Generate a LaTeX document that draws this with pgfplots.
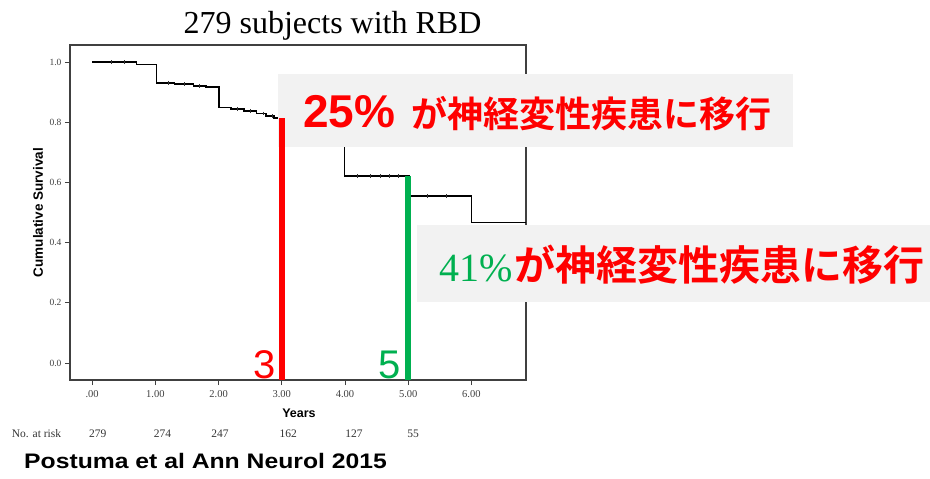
\documentclass[border=0pt]{standalone}
\usepackage{pgfplots}
\usepackage{pgfplotstable}
\pgfplotsset{compat=1.18}
\usepackage{fontspec}
\setmainfont{Liberation Serif}
\setsansfont{Liberation Sans}
\newfontfamily\cjkb{Noto Sans CJK JP Bold}
\definecolor{slidered}{RGB}{255,0,0}
\definecolor{slidegreen}{RGB}{0,176,80}
\definecolor{boxgray}{RGB}{242,242,242}

% Kaplan-Meier estimate (years, cumulative survival)
\pgfplotstableread{
yr surv
0.00 1.000
0.70 0.993
1.02 0.932
1.30 0.928
1.60 0.922
1.80 0.918
2.01 0.849
2.20 0.845
2.40 0.838
2.60 0.830
2.75 0.822
2.88 0.815
2.95 0.810
3.00 0.806
3.20 0.790
3.45 0.778
3.70 0.768
3.99 0.622
5.02 0.556
6.00 0.467
6.864 0.467
}\survtable

% censored observations
\pgfplotstableread{
yr surv
0.30 1.000
0.50 1.000
1.20 0.932
1.45 0.928
1.70 0.922
2.30 0.845
2.50 0.838
2.70 0.830
2.85 0.822
4.20 0.622
4.40 0.622
4.55 0.622
4.70 0.622
4.85 0.622
5.30 0.556
5.60 0.556
}\censtable

\pgfplotsset{kmframe/.style={
  at={(70pt,-380pt)}, anchor=south west, scale only axis,
  width=456pt, height=335pt,
  xmin=-0.351, xmax=6.864, ymin=-0.0565, ymax=1.0575}}

\begin{document}
\begin{tikzpicture}
\path[use as bounding box] (0pt,0pt) rectangle (930pt,-479pt);

\begin{axis}[kmframe,
  xtick={0,1,2,3,4,5,6},
  xticklabels={.00,1.00,2.00,3.00,4.00,5.00,6.00},
  ytick={0,0.2,0.4,0.6,0.8,1},
  yticklabels={0.0,0.2,0.4,0.6,0.8,1.0},
  tick pos=left, tick align=outside, major tick length=5pt,
  tick style={black!75, line width=0.8pt},
  axis line style={black!75, line width=1.6pt},
  /pgf/number format/assume math mode=true,
  xticklabel style={font=\fontsize{10.5}{10.5}\selectfont, text=black!75, yshift=-1.5pt},
  yticklabel style={font=\fontsize{9.5}{9.5}\selectfont, text=black!75},
]
\addplot[const plot, black, line width=1.6pt] table[x=yr, y=surv] {\survtable};
\addplot[only marks, mark=|, mark size=1.8pt, black!80, line width=0.5pt] table[x=yr, y=surv] {\censtable};
\end{axis}

% callout boxes
\fill[boxgray] (277.6pt,-73.8pt) rectangle (793.4pt,-146.9pt);
\fill[boxgray] (417pt,-225pt) rectangle (930pt,-301.5pt);

\begin{axis}[kmframe, hide axis, clip=false]
\addplot[slidered, line width=6.5pt] coordinates {(3,-0.0565) (3,0.814)};
\addplot[slidegreen, line width=6.3pt] coordinates {(5,-0.0565) (5,0.622)};
\end{axis}

% title and axis labels
\node[anchor=base, inner sep=0] at (332.5pt,-33pt) {\fontsize{32}{32}\selectfont 279 subjects with RBD};
\node[anchor=center, inner sep=0, rotate=90] at (38pt,-212.5pt) {\sffamily\bfseries\fontsize{13.5}{13.5}\selectfont Cumulative Survival};
\node[anchor=center, inner sep=0] at (299pt,-413.4pt) {\sffamily\bfseries\fontsize{12.5}{12.5}\selectfont Years};

% number at risk
\node[anchor=base west, inner sep=0, text=black!80] at (11.7pt,-437.3pt) {\fontsize{11.5}{11.5}\selectfont No. at risk};
\foreach \px/\n in {97.7/279, 162.5/274, 220/247, 288.3/162, 354/127, 413/55}
  \node[anchor=base, inner sep=0, text=black!80] at (\px pt,-437.3pt) {\fontsize{11.5}{11.5}\selectfont \n};

% year markers
\node[anchor=base east, inner sep=0, text=slidered] at (276pt,-378.5pt) {\sffamily\fontsize{40}{40}\selectfont 3};
\node[anchor=base east, inner sep=0, text=slidegreen] at (401pt,-378.5pt) {\sffamily\fontsize{40}{40}\selectfont 5};

% callout texts
\node[anchor=base west, inner sep=0, text=slidered] at (302.8pt,-127.5pt) {\sffamily\bfseries\fontsize{46}{46}\selectfont 25\%};
\node[anchor=base west, inner sep=0, text=slidered] at (411pt,-127.5pt) {\cjkb\fontsize{36}{36}\selectfont が神経変性疾患に移行};
\node[anchor=base west, inner sep=0, text=slidegreen] at (439.3pt,-281pt) {\fontsize{40}{40}\selectfont 41\%};
\node[anchor=base west, inner sep=0, text=slidered] at (514pt,-280.5pt) {\cjkb\fontsize{41}{41}\selectfont が神経変性疾患に移行};

% citation
\node[anchor=base west, inner sep=0, xscale=1.177] at (24pt,-468.3pt) {\sffamily\bfseries\fontsize{21}{21}\selectfont Postuma et al Ann Neurol 2015};
\end{tikzpicture}
\end{document}
